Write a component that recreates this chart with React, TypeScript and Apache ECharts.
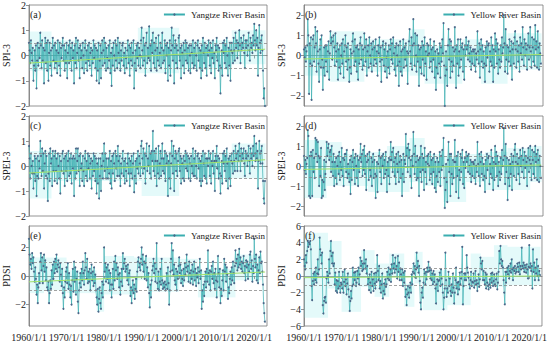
import React, { useEffect, useRef } from "react";
import * as echarts from "echarts";

// ---- time base: 6 readings per year, 1960..2022 ----
const START_YEAR = 1960;
const PER_YEAR = 6;
const xTicks = [1960, 1970, 1980, 1990, 2000, 2010, 2020];

// (a) SPI-3, Yangtze River Basin
const spiYangtze = [
  0.5, 0.2, -0.3, 0.6, 0.1, -0.2, 0.3, -1.0, -0.4, 0.2, -0.6, 0.4,
  -1.3, -0.2, 0.5, -0.4, 0.3, -0.1, 0.9, 0.4, -0.5, 0.6, -0.2, 0.3,
  -1.1, 0.2, 0.7, -0.3, 0.5, -0.6, 0.6, -1.0, 0.1, 0.5, -0.4, 0.2,
  -0.8, 0.3, 0.7, -0.2, 0.4, -0.5, 0.5, -0.3, 0.2, -0.7, 0.6, 0.1,
  -0.4, 0.5, -0.8, 0.3, -0.1, 0.4, 0.7, -0.2, 0.4, -0.6, 0.2, -0.3,
  0.5, -0.9, 0.1, 0.4, -0.3, 0.6, -0.2, 0.3, -0.6, 0.5, -0.1, 0.2,
  -1.1, 0.4, -0.3, 0.7, -0.5, 0.1, 0.6, -0.2, 0.3, -0.9, 0.4, -0.1,
  0.2, -0.5, 0.5, 0.0, -0.7, 0.3, 0.6, -0.3, 0.2, -0.6, 0.4, -0.2,
  0.5, -0.4, 0.1, 0.3, -0.8, 0.2, -0.3, 0.6, -0.1, 0.4, -0.5, 0.3,
  -1.0, 0.2, -0.6, 0.5, -1.1, -0.2, 0.4, -0.9, 0.1, 0.6, -0.4, 0.2,
  0.7, -0.3, 0.5, -0.6, 0.3, -0.1, -0.5, 0.4, -0.2, 0.6, -0.7, 0.1,
  -1.2, 0.3, -0.4, 0.5, 0.0, -0.6, 0.6, -0.2, 0.4, -0.5, 0.7, 0.1,
  -0.3, 0.5, -0.6, 0.2, -0.2, 0.4, 0.5, -0.4, 0.1, -0.7, 0.3, -0.1,
  -0.5, 0.2, 0.6, -0.3, 0.4, -0.8, 0.3, -0.2, 0.5, -0.4, 0.1, 0.6,
  -1.3, -0.3, 0.2, -0.6, 0.4, -0.1, 0.5, -0.4, 0.3, 0.0, -0.5, 0.6,
  1.1, 0.2, -0.4, 0.7, -0.2, 0.4, -0.8, 0.5, 0.9, -0.3, 0.3, -0.1,
  1.15, -0.2, 0.4, -0.6, 0.6, 0.1, 0.9, -0.3, 0.5, -0.5, 0.2, 0.7,
  -0.6, 0.3, -0.2, 0.8, -0.4, 0.1, 0.5, -0.5, 0.3, 0.9, -0.3, 0.2,
  -0.2, 0.6, -0.7, 0.4, 0.0, 0.5, -1.0, 0.3, -0.4, 0.6, -0.8, 0.2,
  1.1, 0.4, -0.2, 0.8, -1.1, 0.3, 0.6, -0.3, 0.4, -0.5, 0.2, 0.7,
  0.8, -0.2, 0.3, -0.9, 0.4, 0.1, -0.4, 0.5, -0.7, 0.2, 0.6, -0.2,
  0.5, -0.3, 0.3, -0.6, 0.4, 0.0, -0.7, 0.4, 0.1, -0.3, 0.6, -0.5,
  0.3, -0.4, 0.5, 0.0, -0.6, 0.4, 0.6, -0.2, 0.3, -0.5, 0.2, -0.9,
  0.4, -0.6, 0.7, 0.1, -0.3, 0.5, -0.5, 0.3, -0.8, 0.4, 0.0, 0.6,
  0.2, -0.4, 0.5, -0.7, 0.3, -0.1, 0.6, -0.3, 0.1, -0.9, 0.4, 0.2,
  0.7, -0.2, 0.4, -0.6, 0.3, -0.4, -1.5, -0.5, 0.2, -0.8, 0.5, 0.1,
  0.6, -0.3, 0.4, -0.5, 0.7, 0.0, -0.8, 0.3, -0.4, 0.5, -1.0, 0.2,
  0.5, 0.1, -0.3, 0.7, 0.2, -0.2, 0.9, 0.3, 0.6, -0.1, 0.5, 0.2,
  1.0, 0.4, -0.3, 0.7, 0.2, 0.5, 0.3, 0.8, 0.1, -0.5, 0.6, 0.3,
  0.6, 0.0, 0.4, 0.9, 0.2, -0.2, 0.7, 0.3, 0.5, 0.1, 0.8, 0.4,
  1.25, 0.6, 0.2, 1.0, 0.4, 0.7, -0.8, 0.3, 1.2, 0.5, 0.1, 0.6,
  0.8, 0.2, -0.6, -1.7, -1.3, -2.0,
];

// (b) SPI-3, Yellow River Basin
const spiYellow = [
  0.3, -0.1, 0.4, -0.3, 0.2, 0.5, 1.8, 1.0, -1.9, 0.6, -0.4, 0.9,
  -2.2, -0.5, 0.8, 1.0, -0.3, 0.4, 1.4, 0.6, -0.8, 1.2, 0.2, -0.4,
  -1.3, 0.3, 0.8, -0.6, 1.0, -0.2, -1.7, -0.6, 0.4, -1.0, 0.5, -0.3,
  0.5, -0.8, 0.2, 0.7, -1.2, 0.1, 1.2, 0.6, 0.9, -0.2, 0.7, 1.0,
  0.4, -0.5, 1.1, 0.2, -0.3, 0.6, -1.2, 0.3, -0.6, 0.5, -0.9, 0.0,
  0.6, -0.4, 0.8, -1.1, 0.2, 0.5, 1.0, -0.3, 0.4, -0.7, 0.6, -0.2,
  -1.3, -0.6, 0.3, -0.9, 0.1, 0.7, 1.1, 0.2, -0.5, 0.8, -0.3, 0.4,
  -0.8, 0.5, -1.2, 0.3, -0.4, 0.6, 0.9, -0.2, 0.5, -0.7, 0.3, -0.5,
  1.1, 0.4, -0.3, 0.8, -1.0, 0.2, 0.5, -0.6, 0.9, 0.0, -0.4, 0.6,
  -0.8, 0.3, 0.7, -0.5, 0.4, -0.2, 0.8, -0.4, 0.2, -1.0, 0.5, 0.1,
  0.9, -0.3, 0.4, -1.3, -0.2, 0.5, 0.7, -0.5, 0.3, -0.8, 0.6, -0.1,
  -1.1, 0.2, -0.6, 0.5, -0.9, 0.3, 0.8, -0.2, 0.6, -0.4, 0.9, 0.1,
  -0.7, 0.4, -1.0, 0.6, 0.0, -0.5, 0.5, -1.5, -0.3, 0.7, -0.8, 0.2,
  -1.0, 0.3, 0.8, -0.6, 0.4, -0.2, 0.6, -0.5, 0.2, -1.4, 0.1, 0.7,
  1.3, 0.2, -0.4, 0.9, -0.7, 0.5, 1.8, 0.6, -0.5, 1.1, 0.0, -0.8,
  1.0, -0.3, 0.5, -1.5, 0.3, -0.6, 0.4, -0.9, 0.7, -0.2, 0.5, -1.0,
  0.9, -0.4, 0.2, -1.2, 0.6, 0.0, 0.5, 0.1, -0.6, 0.8, -0.3, 0.3,
  -0.8, 0.4, -0.2, 0.7, -1.1, 0.2, -1.7, -0.6, 0.3, -0.9, 0.1, -0.4,
  0.6, -1.1, 0.4, -0.3, 0.8, 0.1, 1.6, -0.5, -2.5, -1.0, 0.2, -0.7,
  -1.5, 0.5, 1.3, -0.2, 0.8, -1.1, 0.7, -0.3, -0.8, 0.4, -0.5, 0.2,
  1.4, 0.3, -1.6, 0.5, -0.4, 0.8, -1.0, 0.2, -0.6, 0.8, -0.2, 0.4,
  0.6, -0.8, 0.3, -1.2, 0.5, 0.0, 0.9, 0.3, 0.5, -0.2, 0.7, 0.1,
  -0.3, 0.4, -0.7, 0.2, -0.4, 0.3, 0.2, -0.5, 0.3, -0.8, 0.1, -0.2,
  1.2, 0.2, -0.4, 0.6, -1.1, 0.3, 0.8, -0.3, 0.5, -0.6, 0.2, -0.4,
  -1.3, 0.4, -0.5, 0.7, -0.1, 0.5, 0.6, -0.8, 0.2, -0.3, 0.9, -0.5,
  0.5, -1.3, 0.3, -0.6, 1.1, 0.2, 0.8, -0.4, 0.6, -0.9, 0.3, -0.2,
  -0.6, 0.5, -0.3, 0.9, 0.1, 0.4, 2.0, 0.6, -0.8, 1.3, -0.2, 0.5,
  -0.9, 0.4, -0.3, 0.8, 0.2, -0.5, 0.7, -1.2, 0.3, 0.6, -0.4, 0.9,
  1.2, 0.3, -0.6, 0.7, 0.2, -0.3, 0.5, -0.8, 0.9, 0.1, 0.6, -0.2,
  1.4, 0.4, -0.5, 0.8, 0.0, 0.6, 0.3, -0.7, 0.5, 1.1, -0.2, 0.4,
  1.4, 0.2, -0.6, 0.9, 0.4, -0.3, 0.8, -0.5, 1.5, 0.3, 0.7, -0.6,
  1.2, 0.4, -0.7, 0.6, 0.1, -0.4,
];

// (c) SPEI-3, Yangtze River Basin
const speiYangtze = [
  0.8, 0.3, -0.5, 0.5, 0.0, -0.3, 0.2, -0.9, -0.3, 0.4, -0.6, 0.3,
  -1.2, -0.4, 0.4, -0.5, 0.2, -0.1, 1.0, 0.4, -0.4, 0.7, -0.2, 0.5,
  -0.9, 0.1, 0.6, -0.4, 0.4, -0.5, -1.4, -0.3, 0.5, -0.6, 0.7, 0.1,
  0.3, -0.8, 0.6, -0.2, 0.4, -0.6, 0.6, -0.2, 0.3, -0.7, 0.5, 0.0,
  -0.5, 0.4, -1.1, 0.2, -0.2, 0.5, 0.6, -0.3, 0.3, -0.8, 0.4, -0.2,
  0.5, -0.6, 0.2, 0.6, -0.4, 0.3, -0.3, 0.5, -0.7, 0.3, -0.1, 0.4,
  -1.2, 0.3, -0.5, 0.7, -0.3, 0.2, 0.7, -0.2, 0.4, -0.8, 0.5, -0.1,
  0.1, -0.6, 0.4, -0.2, -0.8, 0.3, 0.6, -0.4, 0.2, -0.6, 0.5, -0.1,
  0.4, -0.5, 0.1, 0.3, -0.9, 0.2, -0.4, 0.5, -0.2, 0.4, -0.6, 0.3,
  -1.1, 0.1, -0.7, 0.3, -1.3, -0.4, 0.3, -1.0, 0.0, 0.5, -0.5, 0.2,
  0.9, -0.2, 0.5, -0.5, 0.3, -0.1, -0.5, 0.3, -0.3, 0.6, -0.7, 0.2,
  -0.9, 0.4, -0.3, 0.5, 0.1, -0.6, 0.6, -0.1, 0.4, -0.4, 0.8, 0.2,
  -0.4, 0.4, -0.8, 0.1, -0.3, 0.3, 0.6, -0.4, 0.2, -0.7, 0.3, -0.2,
  -0.6, 0.1, 0.5, -0.3, 0.3, -0.8, 0.2, -0.3, 0.4, -0.5, 0.1, 0.5,
  -1.05, -0.4, 0.2, -0.7, 0.3, -0.1, 0.6, -0.3, 0.4, 0.1, -0.4, 0.8,
  1.0, 0.3, -0.3, 0.7, -0.1, 0.5, -0.7, 0.4, 0.9, -0.2, 0.3, 0.0,
  0.8, -0.3, 0.5, -0.5, 0.6, 0.2, 1.4, -0.2, 0.6, -0.4, 0.2, 0.7,
  -0.8, 0.2, -0.3, 0.8, -0.5, 0.1, 0.6, -0.4, 0.3, 0.9, -0.2, 0.3,
  -0.3, 0.6, -0.6, 0.5, 0.1, 0.4, -1.2, 0.2, -0.5, 0.5, -0.9, 0.1,
  1.0, 0.4, -0.3, 0.8, -1.0, 0.3, 0.6, -0.2, 0.5, -0.4, 0.2, 0.6,
  0.7, -0.2, 0.4, -0.7, 0.3, 0.1, -0.5, 0.4, -0.6, 0.2, 0.6, -0.1,
  0.5, -0.2, 0.4, -0.5, 0.3, 0.1, -0.6, 0.4, 0.0, -0.3, 0.7, -0.4,
  0.3, -0.4, 0.6, 0.0, -0.5, 0.4, 0.5, -0.1, 0.3, -0.6, 0.2, -0.8,
  0.4, -0.6, 0.6, 0.1, -0.4, 0.5, -0.5, 0.3, -0.7, 0.3, 0.0, 0.6,
  0.3, -0.4, 0.5, -0.7, 0.2, 0.0, 0.6, -0.3, 0.2, -1.0, 0.4, 0.2,
  0.8, -0.1, 0.4, -0.5, 0.3, -0.3, -1.1, -0.4, 0.2, -0.7, 0.5, 0.1,
  0.6, -0.2, 0.4, -0.6, 0.7, 0.1, -0.9, 0.3, -0.5, 0.4, -0.8, 0.2,
  0.5, 0.1, -0.3, 0.6, 0.2, -0.2, 0.8, 0.3, 0.5, -0.2, 0.6, 0.2,
  0.9, 0.4, -0.2, 0.7, 0.2, 0.5, 0.3, 0.7, 0.1, -0.4, 0.6, 0.3,
  0.5, 0.0, 0.4, 0.8, 0.2, -0.3, 0.7, 0.3, 0.5, 0.0, 0.8, 0.4,
  1.2, 0.5, 0.2, 0.9, 0.3, 0.6, -0.9, 0.2, 1.0, 0.5, 0.1, 0.6,
  0.8, 0.1, -0.6, -1.3, -1.5, -0.6,
];

// (d) SPEI-3, Yellow River Basin
const speiYellow = [
  0.5, -0.2, 0.3, -0.4, 0.1, 0.4, 1.8, 1.5, -1.5, 0.5, -1.6, 0.7,
  0.5, -1.5, 0.8, -0.3, 0.4, -0.6, 1.4, 0.6, 1.3, 0.2, 1.2, 0.5,
  -1.0, 0.4, -0.5, 0.9, -1.6, -0.7, -1.5, -0.8, 0.3, -1.2, -0.4, 0.2,
  1.2, 0.5, 0.9, 1.1, 0.3, 0.7, 0.8, -0.3, 1.0, 0.2, -0.5, 0.6,
  -1.0, 0.2, -0.6, 0.4, -0.9, 0.0, 0.5, -0.4, 0.7, -0.7, 0.2, -0.2,
  0.9, -0.5, 0.4, -1.0, 0.3, 0.6, 0.6, -0.3, 0.8, -0.6, 0.1, -0.4,
  -0.8, 0.3, -1.4, 0.5, -0.7, 0.2, 0.8, -0.2, 0.4, -0.9, 0.6, 0.0,
  -0.6, 0.5, -1.0, 0.3, -0.3, 0.4, 1.1, 0.2, 0.6, -0.5, 0.8, -0.2,
  1.0, -0.4, 0.5, -1.2, 0.2, 0.6, 0.3, -0.7, 0.7, -0.2, -0.5, 0.4,
  -1.0, 0.2, 0.6, -0.6, 0.3, -0.4, -1.6, -0.5, 0.2, -1.3, 0.1, 0.5,
  0.8, -0.3, 0.4, -0.9, 0.5, 0.0, 0.6, -0.6, 0.3, -0.4, 0.7, -0.2,
  -1.3, 0.2, -0.5, 0.4, -0.9, 0.3, 1.2, 0.3, 0.7, -0.3, 0.9, 0.2,
  -0.5, 0.4, -0.9, 0.6, 0.1, -0.3, 0.7, -0.8, 0.2, 0.5, -0.6, 0.3,
  -1.5, -0.4, 0.6, -0.8, 0.3, 0.1, 1.6, 0.5, 0.9, -0.3, 1.1, 0.4,
  0.8, -0.5, 0.3, -1.1, 0.5, 0.0, 1.7, 0.6, -0.4, 1.0, 0.2, -0.7,
  0.5, -0.6, 0.3, -1.5, 0.4, -0.3, 1.0, -0.8, 0.6, -0.2, 0.4, -1.2,
  0.9, -0.3, 0.2, -0.9, 0.5, 0.1, 0.6, 0.0, -0.7, 0.7, -0.4, 0.3,
  -0.9, 0.4, -0.3, 0.6, -1.1, 0.2, -1.3, -0.5, 0.4, -0.8, 0.2, -0.3,
  0.7, -1.0, 0.5, -0.2, 0.8, 0.0, 1.4, -0.6, -2.1, -1.2, 0.1, -0.8,
  -1.8, 0.3, 1.2, -0.3, 0.6, -1.5, 0.6, -0.4, -0.9, 0.3, -0.6, 0.2,
  1.3, 0.2, -1.3, 0.5, -0.5, 0.7, -1.6, -0.2, -0.7, 0.6, -0.3, 0.4,
  0.8, -0.9, 0.2, -1.1, 0.4, -0.1, 0.7, 0.2, 0.5, -0.3, 0.6, 0.0,
  -0.4, 0.3, -0.8, 0.2, -0.5, 0.2, 0.1, -0.6, 0.3, -0.9, 0.0, -0.3,
  1.2, 0.1, -0.5, 0.6, -1.0, 0.2, 0.7, -0.4, 0.4, -0.7, 0.1, -0.5,
  -1.3, 0.3, -0.6, 0.6, -0.2, 0.4, 0.5, -0.9, 0.1, -0.4, 0.8, -0.6,
  0.4, -1.2, 0.2, -0.7, 1.0, 0.1, 0.7, -0.5, 0.5, -1.0, 0.2, -0.3,
  -0.7, 0.4, -0.4, 0.8, 0.0, 0.3, 1.9, 0.5, -0.9, 1.1, -0.3, 0.4,
  -1.7, -0.6, 0.3, -1.0, 0.1, -0.4, 0.6, -1.2, 0.2, 0.5, -0.5, 0.8,
  1.1, 0.2, -0.7, 0.6, 0.1, -0.4, 0.4, -0.9, 0.8, 0.0, 0.5, -0.3,
  0.9, 0.3, -0.6, 0.7, -0.1, 0.5, 0.2, -1.0, 0.4, 0.9, -0.3, 0.3,
  1.0, 0.1, -0.7, 0.8, 0.3, -0.4, 0.7, -0.6, 1.0, 0.2, 0.6, -0.7,
  0.8, 0.3, -0.8, 0.5, 0.0, -0.6,
];

// (e) PDSI, Yangtze River Basin
const pdsiYangtze = [
  2.6, 1.5, 0.8, 1.2, 0.5, 1.6, 0.9, 1.3, 0.3, -0.4, 0.6, -0.2,
  -1.3, -0.6, -1.9, -0.8, 0.2, -0.5, 1.0, 1.6, 0.4, 1.3, -0.5, 0.7,
  1.5, 0.3, 1.1, -0.3, 0.6, -0.8, -1.0, -0.4, -1.9, -1.2, -0.3, -0.9,
  0.4, -0.6, 0.8, -0.2, 1.0, 0.2, 1.2, 0.5, 1.5, 0.3, 0.8, 1.1,
  0.6, -0.4, 0.9, 0.1, -0.7, 0.5, -1.2, -2.3, -0.8, -1.5, -0.4, 0.3,
  0.6, -0.5, 0.9, -0.9, 0.2, -0.6, -1.5, -0.7, -2.0, -0.3, 0.5, -1.1,
  1.0, -0.4, 0.6, -1.3, -0.2, 0.3, -1.8, -2.6, -1.0, -0.5, 0.2, -0.8,
  0.5, -0.3, 1.0, 0.2, -0.6, 0.4, 1.6, 0.6, -0.2, 1.2, -0.5, 0.3,
  -0.4, 0.5, -1.0, 0.2, 0.8, -0.3, 0.3, -0.7, 0.6, -0.5, 0.1, -1.0,
  -1.5, -2.0, -0.9, -2.5, -1.6, -0.8, -1.9, -2.3, -1.2, -0.4, -1.5, -0.6,
  2.0, 0.3, 0.9, -0.4, 0.6, -0.2, 0.8, -0.5, 0.4, -1.0, 0.2, -0.6,
  -1.5, -0.6, 0.5, -0.9, 1.0, -0.3, 1.4, 0.4, 0.9, -0.2, 0.6, 0.1,
  -0.8, 0.2, -1.3, -0.4, 0.5, -0.7, 1.6, 0.5, 0.9, 1.2, 0.3, 0.7,
  0.5, -0.3, 0.8, -0.6, 0.2, 0.4, -1.4, -0.8, -1.9, -1.0, -0.3, -1.2,
  -0.6, -1.6, -0.9, -0.2, -1.1, 0.3, 1.0, 1.3, 0.6, 0.9, 0.4, 1.2,
  2.0, 0.8, 1.5, 0.3, 1.0, -0.2, 0.9, 1.4, -0.3, 0.6, -0.8, 0.2,
  -1.2, -2.2, -0.6, -1.5, -0.3, 0.4, 0.7, 1.2, 0.2, 0.9, -0.4, 0.5,
  2.3, -0.5, -0.9, 0.3, -1.0, -0.4, 0.5, -0.6, 1.2, -0.3, -0.9, -0.5,
  -0.8, -0.4, -1.0, -0.6, 0.2, -0.9, 0.6, -0.5, -2.0, -1.0, 0.3, 1.2,
  2.3, 0.4, 1.8, 0.1, 0.8, -0.3, -0.6, 0.5, -1.0, 0.3, -0.2, 0.7,
  1.3, 0.2, 0.8, -0.5, 0.4, -0.2, -0.7, 0.5, -0.3, 0.9, 0.1, 0.6,
  1.5, 0.3, 0.7, -0.4, 1.0, 0.2, -0.5, 0.4, -0.2, 0.8, -0.6, 0.3,
  1.0, -0.3, 0.5, -0.7, 0.2, -0.1, 0.6, -0.5, 0.3, 1.2, -0.2, 0.4,
  -2.3, -1.0, -1.8, -0.6, -1.4, -0.4, 0.3, -0.8, 0.5, -0.4, 1.8, 0.2,
  -0.6, 0.4, -1.0, 0.3, 0.7, -0.2, 1.0, -0.5, 0.2, -0.9, 0.5, -0.3,
  -1.5, -0.4, 1.4, 0.2, -0.8, 0.5, -1.9, -0.9, -1.4, -0.3, 0.4, -1.0,
  1.2, 0.3, 0.8, -0.4, 0.6, 0.1, -1.6, -0.8, -1.2, -0.2, 0.3, -0.6,
  0.6, -0.3, 1.0, 0.2, -0.5, 0.7, 1.8, 0.9, 1.2, 0.4, 1.5, 0.6,
  1.9, 0.8, 1.3, 0.5, 1.0, 0.3, 0.9, 1.4, 0.2, 0.7, -0.3, 1.1,
  0.6, 1.0, -0.2, 0.8, 0.3, 1.5, 1.7, 0.5, 1.1, -0.4, 0.7, 0.2,
  2.6, 1.2, 0.6, 1.5, -0.3, 0.8, -0.5, 0.4, 1.3, 0.2, 1.7, 0.9,
  1.0, 0.3, -0.6, -1.9, -2.6, -3.2,
];

// (f) PDSI, Yellow River Basin
const pdsiYellow = [
  2.0, 1.2, 0.8, 2.5, 1.6, 3.0, 4.2, 3.5, 4.0, 3.8, 4.2, 3.2,
  -1.2, -2.9, -0.6, 0.3, -1.0, 0.5, -0.5, 1.0, -0.8, 0.3, 2.0, 0.2,
  0.8, 4.6, 3.2, 2.5, 1.5, 2.8, -3.5, -4.5, -3.0, -2.6, -2.5, -3.2,
  -0.3, 0.5, 0.0, -0.8, 2.0, 0.3, 3.0, 4.2, 2.4, 1.5, 2.8, 1.2,
  1.5, -1.0, 0.4, -1.8, -0.5, -2.0, -0.6, -1.5, 0.5, -1.2, -2.0, -0.8,
  -1.0, -1.5, 0.5, -2.0, -0.7, 0.8, -1.2, -0.4, -2.2, -0.9, 0.3, -1.6,
  -2.5, -4.2, -3.0, -1.8, -2.7, -1.2, 1.0, -1.0, 0.4, -0.5, 0.5, -1.2,
  -0.8, 0.6, -0.3, 1.0, -1.0, 0.2, 2.2, 1.2, 1.8, 0.6, 1.5, 0.8,
  3.1, 1.5, 0.9, 2.0, 0.3, 1.2, -1.0, -0.3, -1.7, 0.2, -0.8, -2.0,
  0.5, -1.2, -0.4, -1.8, 0.3, -0.9, -1.5, 0.4, -0.7, 2.5, 0.6, -0.5,
  1.2, -1.5, -0.6, -2.0, -1.0, 0.3, -2.7, -1.8, -0.9, -2.2, -0.4, -1.3,
  -1.0, 0.5, -0.3, 1.0, -0.5, 0.2, 0.8, -0.7, 1.4, 0.3, 2.5, 0.9,
  1.5, 0.4, 2.2, 0.8, 1.2, -0.3, 2.4, 0.5, 1.6, -0.5, 0.9, 0.2,
  -0.5, 0.8, -1.2, 0.4, -0.8, 0.6, -2.5, -1.6, -3.5, -2.2, -1.2, -2.0,
  -2.6, -1.4, -0.8, -2.0, 0.2, -1.0, 0.5, 1.5, 0.3, 1.2, -0.2, 0.8,
  2.8, 1.0, 1.8, 0.4, 1.2, -0.6, -3.2, -4.0, -2.0, -1.4, -2.6, -0.8,
  0.8, 0.3, -1.0, 0.5, -0.4, 1.0, 0.5, 1.7, 0.6, 1.0, -0.3, 0.7,
  -0.5, 0.3, -1.0, 0.6, -0.7, 0.2, -1.5, -3.3, -1.0, -0.4, -1.8, -0.6,
  -0.5, 0.4, -1.2, 0.8, -0.3, -1.0, -2.0, -4.0, -2.6, -1.5, 2.8, -0.5,
  -2.5, -1.5, -2.0, 0.5, -1.2, -0.3, -1.8, -2.4, -1.0, -2.0, 0.3, -1.4,
  -3.3, -2.0, -0.5, 1.0, -1.5, -0.8, -2.2, -0.7, -1.6, 0.4, -1.0, -0.3,
  0.5, 3.5, -3.4, -1.2, 0.3, -0.5, 0.3, -0.5, 2.5, 1.0, 0.4, -0.2,
  -1.0, -1.5, -0.5, 0.5, -1.2, -0.7, -0.8, 0.3, -1.4, -0.6, 0.6, -1.0,
  -0.5, -1.8, -0.9, 0.2, -1.3, -0.4, 2.2, 1.5, 0.8, 1.8, -0.5, 0.6,
  -0.5, -1.0, 0.4, -1.5, 0.2, -0.8, -1.2, -1.6, -1.0, -0.4, -1.4, 0.3,
  -0.8, 0.4, -1.2, -0.6, 0.2, -1.0, -1.2, -0.4, 0.3, -1.6, -0.8, 0.5,
  3.0, 1.5, 3.6, 2.0, 1.2, 1.8, 1.0, -0.5, -2.0, -3.4, 0.5, -0.8,
  0.5, 1.0, 0.2, 1.2, -0.3, 0.6, 1.5, 0.4, 2.0, 0.8, -0.5, 1.0,
  0.6, 1.2, 0.3, 0.9, 0.5, 1.5, 1.1, 0.5, 1.6, 0.2, 1.2, 0.8,
  3.4, 1.2, 0.9, 1.6, 0.5, 1.3, 1.0, 0.4, 1.4, 0.8, -0.3, 1.1,
  3.7, 1.0, 1.5, 0.6, 1.2, -1.5, 3.2, 0.5, 1.6, -0.5, 1.0, 0.3,
  2.0, 0.0, 1.2, -0.5, 0.6, 0.1,
];

// shaded envelope blocks: [startYear, endYear, low, high]
const bandsA = [[1960, 1966, -0.6, 0.95], [1966, 1989, -0.6, 0.6], [1989, 2000, -0.7, 1.1], [2000, 2014, -0.55, 0.6], [2014, 2023, -0.35, 1.0]];
const bandsB = [[1960, 1967, -1.0, 0.5], [1967, 1976, -1.3, 1.2], [1976, 1988, -0.8, 0.8], [1988, 1992, -1.0, 1.3], [1992, 2002, -1.4, 0.5], [2002, 2007, -0.6, 0.8], [2007, 2014, -1.4, 0.6], [2014, 2023, -0.7, 1.1]];
const bandsC = [[1960, 1966, -1.3, 0.6], [1966, 1990, -0.6, 0.55], [1990, 2000, -1.2, 0.6], [2000, 2014, -0.5, 0.55], [2014, 2023, -0.5, 0.9]];
const bandsD = [[1960, 1966, -1.6, 1.3], [1966, 1970, -1.0, 1.2], [1970, 1977, -1.0, 0.6], [1977, 1982, -1.3, 0.7], [1982, 1988, -1.3, 1.0], [1988, 1992, -0.8, 1.4], [1992, 1997, -1.0, 0.6], [1997, 2003, -1.8, 0.5], [2003, 2008, -0.8, 0.6], [2008, 2014, -1.2, 0.7], [2014, 2020, -1.2, 0.9], [2020, 2023, -0.8, 1.0]];
const bandsE = [[1960, 1964, -1.2, 1.3], [1964, 1970, -1.0, 1.3], [1970, 1978, -1.2, 0.4], [1978, 1980, -2.5, -0.3], [1980, 1988, -1.3, 1.4], [1988, 1992, -0.3, 1.3], [1992, 2000, -1.1, 1.3], [2000, 2005, -0.5, 1.2], [2005, 2010, -1.5, 0.4], [2010, 2015, -1.5, 0.5], [2015, 2022, -0.3, 1.5]];
const bandsF = [[1960, 1966.4, -5, 5.2], [1966.4, 1970, -1.5, 4.2], [1970, 1975.2, -4.3, 0.7], [1975.2, 1978.8, -1.3, 3.1], [1978.8, 1982.7, -2.5, 1.5], [1982.7, 1986.7, 0, 2.7], [1986.7, 1989.4, -3.7, -0.9], [1989.4, 1991.6, -0.9, 2.9], [1991.6, 1994.7, -4.1, -0.3], [1994.7, 1998.2, -4.1, 0.7], [1998.2, 2004.4, -3.5, -0.1], [2004.4, 2007.1, -1.3, 2.7], [2007.1, 2010.6, -0.9, 2.3], [2010.6, 2014.2, -1.3, 3.7], [2014.2, 2023, -1.1, 3.5]];

// linear trend end values [1960, 2022] and dashed reference levels [upper, lower]
const trendA = [-0.3, 0.25], dashA = [0.5, -0.5];
const trendB = [-0.17, 0.05], dashB = [0.5, -0.54];
const trendC = [-0.28, 0.25], dashC = [0.5, -0.5];
const trendD = [-0.17, 0.05], dashD = [0.5, -0.54];
const trendE = [-0.41, 0.28], dashE = [0.97, -1.03];
const trendF = [-0.2, 0.0], dashF = [0.88, -1.08];

const YANGTZE = "Yangtze River Basin";
const YELLOW = "Yellow River Basin";

const panels = [
  { tag: "(a)", basin: YANGTZE, yName: "SPI-3", values: spiYangtze, bands: bandsA, trend: trendA, dash: dashA, min: -2, max: 2, ticks: [-2, -1, 0, 1, 2] },
  { tag: "(b)", basin: YELLOW, yName: "SPI-3", values: spiYellow, bands: bandsB, trend: trendB, dash: dashB, min: -2.5, max: 2.5, ticks: [-2, -1, 0, 1, 2] },
  { tag: "(c)", basin: YANGTZE, yName: "SPEI-3", values: speiYangtze, bands: bandsC, trend: trendC, dash: dashC, min: -2, max: 2, ticks: [-2, -1, 0, 1, 2] },
  { tag: "(d)", basin: YELLOW, yName: "SPEI-3", values: speiYellow, bands: bandsD, trend: trendD, dash: dashD, min: -2.5, max: 2.5, ticks: [-2, -1, 0, 1, 2] },
  { tag: "(e)", basin: YANGTZE, yName: "PDSI", values: pdsiYangtze, bands: bandsE, trend: trendE, dash: dashE, min: -3.5, max: 3.5, ticks: [-2, 0, 2] },
  { tag: "(f)", basin: YELLOW, yName: "PDSI", values: pdsiYellow, bands: bandsF, trend: trendF, dash: dashF, min: -6, max: 6, ticks: [-6, -4, -2, 0, 2, 4, 6] },
];

const FONT = "Liberation Serif";
const TEXT = "#222";
const AXIS = "#7a7a7a";
const X_MAX = 2023.4;

const gridBoxes = [
  { left: 29, top: 5, width: 238, height: 101 },
  { left: 304, top: 5, width: 239, height: 101 },
  { left: 29, top: 116, width: 238, height: 100 },
  { left: 304, top: 116, width: 239, height: 100 },
  { left: 29, top: 226, width: 238, height: 100 },
  { left: 304, top: 226, width: 239, height: 100 },
];

const fmtY = (v: number) => (v < 0 ? "\u2212" + Math.abs(v) : String(v));

function buildOption() {
  const grid: any[] = [];
  const xAxis: any[] = [];
  const yAxis: any[] = [];
  const series: any[] = [];
  const legend: any[] = [];
  const graphic: any[] = [];

  panels.forEach((p, i) => {
    const g = gridBoxes[i];
    grid.push({ ...g, show: true, borderColor: AXIS, borderWidth: 0.8, backgroundColor: "#fff" });
    xAxis.push({
      type: "value", gridIndex: i, min: START_YEAR, max: X_MAX,
      axisLine: { show: true, lineStyle: { color: AXIS, width: 0.8 } },
      axisTick: { show: true, length: 3, customValues: xTicks, lineStyle: { color: AXIS, width: 0.8 } },
      axisLabel: { show: i >= 4, customValues: xTicks, formatter: (v: number) => `${v}/1/1`, fontFamily: FONT, fontSize: 10, color: TEXT, margin: 6 },
      splitLine: { show: false },
    });
    yAxis.push({
      type: "value", gridIndex: i, min: p.min, max: p.max,
      name: p.yName, nameLocation: "middle", nameGap: 13,
      nameTextStyle: { fontFamily: FONT, fontSize: 10, color: TEXT },
      axisLine: { show: true, lineStyle: { color: AXIS, width: 0.8 } },
      axisTick: { show: true, length: 3, customValues: p.ticks, lineStyle: { color: AXIS, width: 0.8 } },
      axisLabel: { customValues: p.ticks, formatter: fmtY, fontFamily: FONT, fontSize: 10, color: TEXT, margin: 3 },
      splitLine: { show: false },
    });

    series.push({
      type: "custom", name: "band" + i, xAxisIndex: i, yAxisIndex: i, silent: true, clip: true, z: 1,
      data: p.bands, encode: { x: [0, 1], y: [2, 3] },
      renderItem: (_params: any, api: any) => {
        const p0 = api.coord([api.value(0), api.value(3)]);
        const p1 = api.coord([api.value(1), api.value(2)]);
        return {
          type: "rect",
          shape: { x: p0[0], y: p0[1], width: p1[0] - p0[0], height: p1[1] - p0[1] },
          style: { fill: "rgba(120,232,228,0.2)" },
        };
      },
    });

    series.push({
      type: "line", name: p.basin, xAxisIndex: i, yAxisIndex: i, z: 3,
      data: p.values.map((v, k) => [START_YEAR + k / PER_YEAR, v]),
      symbol: "circle", symbolSize: 2, showAllSymbol: true,
      lineStyle: { color: "#3aaeb0", width: 0.7 },
      itemStyle: { color: "#4a6688" },
      emphasis: { disabled: true },
    });

    series.push({
      type: "line", name: "trend" + i, xAxisIndex: i, yAxisIndex: i, z: 4,
      data: [[START_YEAR, p.trend[0]], [2022.9, p.trend[1]]],
      symbol: "none", lineStyle: { color: "#a2e26c", width: 1 }, silent: true,
      markLine: {
        symbol: "none", silent: true, label: { show: false },
        lineStyle: { type: [3, 2], color: "#8a8a8a", width: 0.8 },
        data: [{ yAxis: p.dash[0] }, { yAxis: p.dash[1] }],
      },
    });

    legend.push({
      data: [p.basin], right: i % 2 === 0 ? 550 - 265 : 9, top: g.top + 5,
      itemWidth: 21, itemHeight: 3, itemGap: 0, padding: 0, selectedMode: false,
      textStyle: { fontFamily: FONT, fontSize: 9, color: TEXT, padding: [0, 0, 0, 1] },
    });

    graphic.push({
      type: "text", left: g.left + 1, top: g.top + 4, z: 10,
      style: { text: p.tag, fontFamily: FONT, fontSize: 10, fill: TEXT },
    });
  });

  return { animation: false, backgroundColor: "#fff", textStyle: { fontFamily: FONT }, grid, xAxis, yAxis, series, legend, graphic };
}

export default function App() {
  const ref = useRef<HTMLDivElement>(null);
  useEffect(() => {
    if (!ref.current) return;
    const chart = echarts.init(ref.current, undefined, { renderer: "svg" });
    chart.setOption(buildOption() as any);
    return () => chart.dispose();
  }, []);
  return <div ref={ref} style={{ position: "fixed", left: 0, top: 0, width: 550, height: 344, background: "#fff" }} />;
}
